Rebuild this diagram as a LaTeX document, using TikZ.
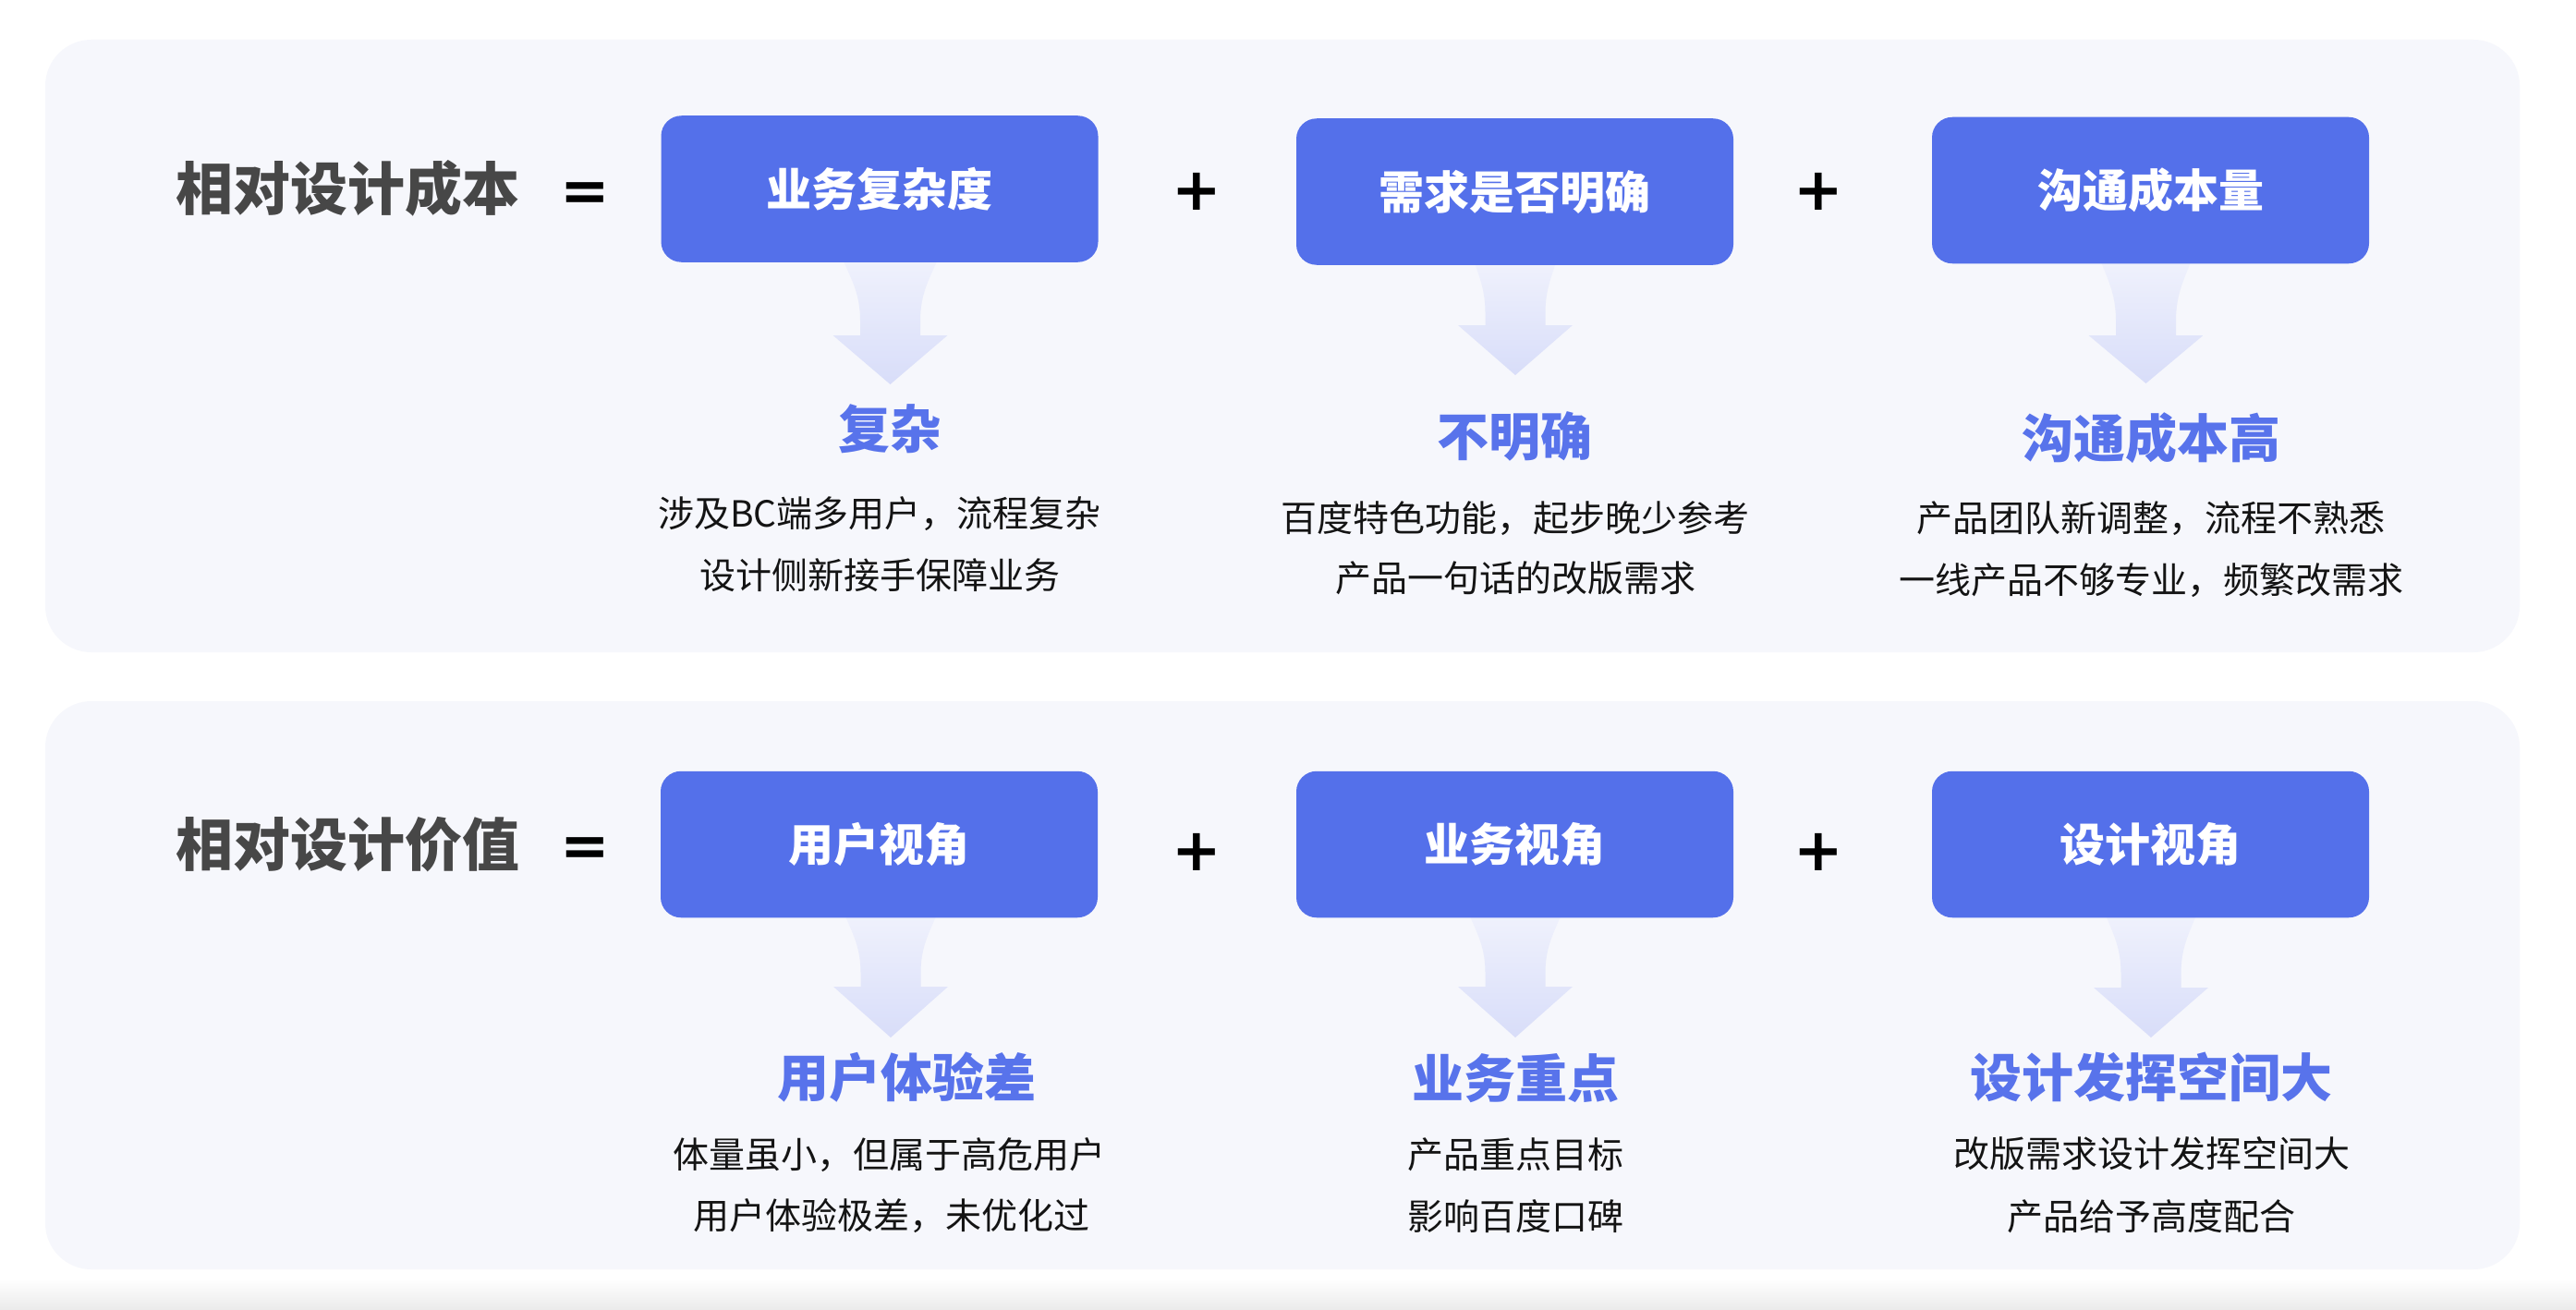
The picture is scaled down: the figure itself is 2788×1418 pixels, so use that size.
\documentclass[tikz,border=0pt]{standalone}
\usepackage{fontspec}
\setmainfont{Noto Sans CJK SC}
\newfontfamily\opfont{DejaVu Sans}
\definecolor{panelbg}{HTML}{F6F7FC}
\definecolor{boxblue}{HTML}{5470EA}
\definecolor{lblblue}{HTML}{5873EB}
\definecolor{titlegray}{HTML}{474747}
\definecolor{desctext}{HTML}{141414}
\definecolor{arrtop}{HTML}{EFF1FC}
\definecolor{arrbot}{HTML}{D8DDF9}
\newcommand\fatarrow[5]{%
  \shade[top color=arrtop,bottom color=arrbot]
  ({#1-#5},#2) .. controls ({#1-0.5*#5-16.25},{#2+0.25*(#3-#2)}) and ({#1-32.5},{#2+0.45*(#3-#2)}) .. ({#1-32.5},{#2+0.8*(#3-#2)})
  -- ({#1-32.5},#3) -- ({#1-62},#3) -- (#1,#4) -- ({#1+62},#3) -- ({#1+32.5},#3) -- ({#1+32.5},{#2+0.8*(#3-#2)})
  .. controls ({#1+32.5},{#2+0.45*(#3-#2)}) and ({#1+0.5*#5+16.25},{#2+0.25*(#3-#2)}) .. ({#1+#5},#2) -- cycle;}
\begin{document}
\begin{tikzpicture}[x=1pt,y=-1pt,
  panel/.style={fill=panelbg,rounded corners=50pt},
  stepbox/.style={fill=boxblue,rounded corners=22pt,minimum width=473pt,minimum height=158.5pt,inner sep=0pt,
    text=white,font=\fontsize{49}{49}\selectfont\bfseries,text height=43.12pt,text depth=5.88pt},
  titletext/.style={inner sep=0pt,text=titlegray,font=\fontsize{62}{62}\selectfont\bfseries,text height=54.56pt,text depth=7.44pt},
  lbltext/.style={inner sep=0pt,text=lblblue,font=\fontsize{56}{56}\selectfont\bfseries,text height=49.28pt,text depth=6.72pt},
  desc/.style={inner sep=0pt,text=desctext,font=\fontsize{39}{39}\selectfont,text height=34.32pt,text depth=4.68pt},
  optext/.style={inner sep=0pt,anchor=base,text=black,font=\opfont\fontsize{64}{64}\selectfont\bfseries}
]
\fill[white] (0,0) rectangle (2788,1418);
\useasboundingbox (0,0) rectangle (2788,1418);
\shade[top color=white,bottom color=black!8] (0,1384) rectangle (2788,1418);
% panels
\fill[panel] (49,43) rectangle (2727,706);
\fill[panel] (49,759) rectangle (2727,1374);
% arrows
\fatarrow{963.5}{284}{363}{416}{50}
\fatarrow{1640}{287}{352}{406}{43}
\fatarrow{2322.5}{285}{363}{415}{48}
\fatarrow{964}{993}{1068}{1123}{48.5}
\fatarrow{1640}{993}{1068}{1123}{48.5}
\fatarrow{2328}{993}{1069}{1123}{48}
% row 1
\node[titletext] (t1) at (376.5,204) {相对设计成本};
\node[optext] (eq1) at (633,228) {=};
\node[stepbox] (b11) at (952,204.5) {业务复杂度};
\node[optext] (p11) at (1295,227) {+};
\node[stepbox] (b12) at (1639.5,207.5) {需求是否明确};
\node[optext] (p12) at (1968,227) {+};
\node[stepbox] (b13) at (2327.5,206) {沟通成本量};
\node[lbltext] (l11) at (963.5,464) {复杂};
\node[lbltext] (l12) at (1639.5,472) {不明确};
\node[lbltext] (l13) at (2328,474) {沟通成本高};
\node[desc] (d11a) at (952,556) {涉及BC端多用户，流程复杂};
\node[desc] (d11b) at (952.5,622.5) {设计侧新接手保障业务};
\node[desc] (d12a) at (1639.5,560.5) {百度特色功能，起步晚少参考};
\node[desc] (d12b) at (1640,626) {产品一句话的改版需求};
\node[desc] (d13a) at (2328,561) {产品团队新调整，流程不熟悉};
\node[desc] (d13b) at (2328,628) {一线产品不够专业，频繁改需求};
% row 2
\node[titletext] (t2) at (376.5,914) {相对设计价值};
\node[optext] (eq2) at (633,937) {=};
\node[stepbox] (b21) at (951.5,914) {用户视角};
\node[optext] (p21) at (1295,942) {+};
\node[stepbox] (b22) at (1639.5,914) {业务视角};
\node[optext] (p22) at (1968,942) {+};
\node[stepbox] (b23) at (2327.5,914) {设计视角};
\node[lbltext] (l21) at (981,1166) {用户体验差};
\node[lbltext] (l22) at (1640,1167) {业务重点};
\node[lbltext] (l23) at (2328,1166) {设计发挥空间大};
\node[desc] (d21a) at (962,1249.5) {体量虽小，但属于高危用户};
\node[desc] (d21b) at (964.5,1316) {用户体验极差，未优化过};
\node[desc] (d22a) at (1640.5,1250) {产品重点目标};
\node[desc] (d22b) at (1640.5,1317) {影响百度口碑};
\node[desc] (d23a) at (2329,1249) {改版需求设计发挥空间大};
\node[desc] (d23b) at (2328.5,1317) {产品给予高度配合};
\end{tikzpicture}
\end{document}
